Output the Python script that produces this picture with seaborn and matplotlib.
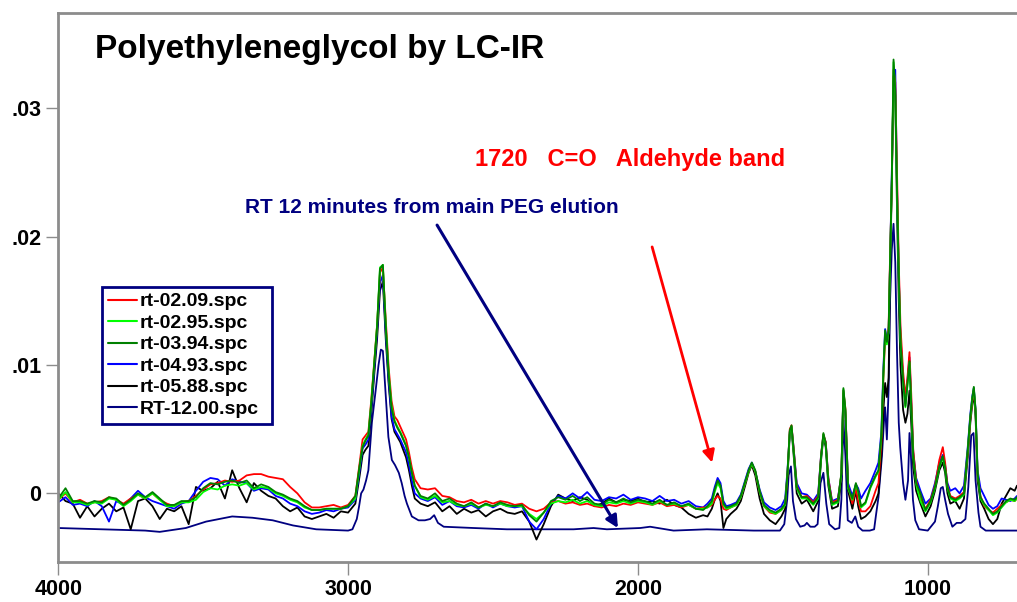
import numpy as np
import pandas as pd
import seaborn as sns
import matplotlib.pyplot as plt

sns.set_theme(style='white')
plt.rcParams['font.family'] = ['Liberation Sans', 'DejaVu Sans']
plt.rcParams['text.color'] = 'black'

# wavenumber grid (cm-1) shared by the five early fractions
wavenumber = [
    4000, 3975, 3950, 3925, 3900, 3875, 3850, 3825, 3800, 3775, 3750, 3725, 3700, 3675,
    3650, 3625, 3600, 3575, 3550, 3525, 3500, 3475, 3450, 3425, 3400, 3375, 3350, 3325,
    3300, 3275, 3250, 3225, 3200, 3175, 3150, 3125, 3100, 3075, 3050, 3025, 3000, 2975,
    2960, 2950, 2940, 2930, 2920, 2910, 2900, 2890, 2880, 2870, 2860, 2850, 2840, 2830,
    2820, 2810, 2800, 2790, 2780, 2770,
    2750, 2725, 2700, 2675, 2650, 2625, 2600, 2575, 2550, 2525, 2500, 2475, 2450, 2425,
    2400, 2375, 2350, 2325, 2300, 2275, 2250, 2225, 2200, 2175, 2150, 2125, 2100, 2075,
    2050, 2025, 2000, 1975, 1950, 1925, 1900, 1875, 1850, 1825, 1800, 1775,
    1760, 1745, 1735, 1725, 1715, 1705, 1695, 1680, 1660, 1645, 1630, 1618, 1607, 1595,
    1580, 1565, 1545, 1525, 1505, 1492, 1484, 1476, 1470, 1463, 1452, 1435, 1417, 1395,
    1378, 1368, 1360, 1352, 1343, 1330, 1310, 1298, 1291, 1284, 1275, 1260, 1248, 1240,
    1230, 1215, 1198, 1180, 1170, 1160, 1153, 1147, 1141, 1135, 1130, 1124, 1118, 1112,
    1106, 1100, 1094, 1085, 1077, 1070, 1063, 1057, 1050, 1040, 1025, 1008, 990, 975,
    960, 948, 940, 932, 922, 905, 890, 875, 862, 853, 846, 841, 835, 828,
    818, 805, 790, 775, 760, 745, 730, 715, 700, 692,
]

# absorbance in units of 1e-4
rt_0209 = [
    -5, 0, -7, -5, -8, -7, -6, -3, -5, -8, -4, -1, -4, 0, -5, -8, -10, -7, -6, -2, 3,
    7, 8, 10, 9, 10, 14, 15, 15, 13, 12, 11, 5, 0, -7, -11, -11, -10, -9, -11, -9, -2,
    24, 42, 45, 48, 73, 102, 131, 172, 176, 135, 98, 72, 60, 57, 52, 47, 42, 32, 20, 11,
    4, 3, 4, -2, -3, -6, -7, -5, -8, -6, -8, -6, -7, -9, -8, -12, -14, -12, -7, -6,
    -8, -7, -9, -8, -10, -11, -9, -10, -8, -9, -7, -8, -9, -7, -10, -9, -11, -9, -12, -11,
    -11, -9, -5, -2, -4, -12, -13, -11, -9, -3, 8, 17, 23, 17, 1, -10, -15, -16, -13, -9,
    15, 50, 53, 36, 6, -3, -2, -7, -2, 30, 46, 40, 12, -7, -5, 15, 80, 66, 6, -8,
    4, -6, -14, -14, -10, 2, 8, 40, 90, 120, 118, 130, 185, 240, 330, 320, 250, 180, 130, 95,
    75, 90, 110, 78, 34, 10, -4, -12, -5, 6, 26, 36, 24, 6, -2, -4, -2, 1, 32, 58,
    73, 80, 64, 15, -2, -10, -13, -15, -12, -9, -7, -5, -6, -4,
]
rt_0295 = [
    -5, 1, -7, -7, -9, -7, -8, -4, -5, -10, -6, -1, -4, 0, -5, -10, -10, -7, -7, -5, 1,
    4, 3, 6, 7, 6, 8, 3, 5, 4, 0, -2, -5, -7, -11, -13, -13, -12, -12, -12, -10, -4,
    21, 37, 42, 46, 71, 101, 131, 176, 178, 131, 94, 68, 57, 52, 48, 43, 37, 28, 16, 6,
    -3, -5, -2, -7, -6, -9, -10, -8, -11, -9, -10, -8, -10, -10, -10, -16, -20, -15, -8, -6,
    -7, -5, -8, -6, -9, -10, -7, -8, -6, -8, -6, -7, -9, -6, -9, -8, -10, -9, -12, -12,
    -11, -8, 1, 8, 4, -9, -12, -11, -9, -3, 8, 17, 23, 17, 1, -10, -14, -16, -13, -9,
    15, 48, 52, 33, 4, -4, -4, -9, -4, 28, 46, 38, 9, -9, -7, 15, 81, 64, 4, -5,
    7, 1, -11, -8, 4, 13, 17, 44, 92, 125, 116, 126, 180, 242, 336, 312, 234, 170, 118, 87,
    67, 84, 102, 69, 28, 7, -6, -14, -7, 4, 20, 28, 19, 4, -4, -6, -4, -1, 33, 59,
    74, 82, 64, 15, -4, -9, -13, -17, -15, -11, -7, -5, -6, -4,
]
rt_0394 = [
    -4, 4, -6, -6, -8, -6, -7, -3, -4, -9, -5, 0, -3, 1, -4, -9, -9, -6, -6, -3, 4,
    8, 7, 9, 10, 8, 10, 4, 7, 5, 1, -1, -4, -6, -10, -13, -13, -12, -12, -12, -10, -2,
    22, 36, 41, 45, 70, 100, 130, 175, 178, 130, 92, 66, 56, 51, 47, 42, 37, 28, 16, 6,
    -2, -4, 0, -6, -4, -8, -10, -7, -11, -8, -10, -7, -9, -10, -9, -17, -22, -15, -6, -3,
    -5, -2, -6, -3, -8, -9, -5, -7, -4, -7, -5, -6, -8, -5, -9, -7, -10, -8, -12, -13,
    -10, -6, 3, 10, 6, -8, -11, -10, -8, -2, 9, 18, 24, 18, 2, -9, -13, -15, -12, -8,
    16, 49, 53, 34, 5, -3, -3, -8, -3, 29, 47, 39, 10, -8, -6, 16, 82, 65, 5, -4,
    8, 2, -10, -7, 5, 14, 18, 45, 94, 127, 118, 127, 182, 244, 338, 314, 236, 171, 119, 88,
    68, 85, 103, 70, 29, 8, 0, -13, -6, 5, 21, 29, 20, 5, -3, -5, -3, 0, 34, 60,
    75, 83, 65, 16, -3, -8, -12, -16, -14, -10, -6, -4, -5, -3,
]
rt_0493 = [
    -7, -3, -9, -8, -10, -6, -10, -22, -6, -9, -4, 2, -3, -6, -8, -10, -12, -8, -6, 2, 9,
    12, 11, 6, 11, 9, 8, 2, 4, 3, -2, -4, -8, -10, -14, -16, -15, -13, -14, -12, -11, -5,
    18, 35, 38, 42, 66, 96, 126, 164, 170, 125, 88, 60, 50, 46, 42, 37, 32, 22, 10, 0,
    -4, -6, -3, -9, -6, -10, -11, -9, -12, -8, -11, -8, -10, -11, -10, -22, -28, -20, -8, -2,
    -4, 0, -4, 1, -5, -6, -3, -4, -1, -5, -3, -4, -6, -2, -6, -5, -8, -6, -10, -11,
    -8, -4, 5, 12, 8, -6, -10, -9, -7, -1, 10, 19, 24, 17, 3, -7, -11, -13, -10, -4,
    18, 48, 52, 36, 8, 0, -1, -6, 0, 30, 45, 40, 12, -6, -4, 14, 80, 63, 8, -2,
    7, 4, -4, 2, 8, 18, 24, 48, 98, 128, 120, 125, 180, 248, 320, 330, 240, 172, 122, 90,
    70, 88, 106, 72, 32, 12, 2, -8, -4, 8, 24, 30, 22, 8, 2, 4, 0, 6, 36, 62,
    76, 82, 66, 18, 4, -2, -9, -12, -10, -4, -5, -6, -4, -2,
]
rt_0588 = [
    0, -6, -8, -19, -10, -18, -12, -8, -14, -11, -28, -6, -4, -10, -20, -12, -14, -10, -24, 5, 2,
    4, 9, -4, 18, 4, -7, 8, 2, -2, -4, -10, -14, -11, -18, -20, -18, -16, -19, -14, -15, -8,
    14, 30, 34, 37, 62, 92, 120, 158, 165, 120, 85, 58, 48, 44, 40, 34, 28, 18, 6, -4,
    -8, -10, -7, -14, -10, -16, -12, -15, -13, -18, -14, -12, -15, -16, -14, -22, -36, -24, -10, -1,
    -4, -6, -3, -5, -10, -8, -4, -7, -5, -6, -4, -7, -6, -8, -5, -9, -11, -16, -19, -17,
    -18, -12, -5, 0, -6, -27, -20, -16, -12, -6, 6, 16, 22, 14, -4, -16, -21, -24, -18, -12,
    12, 46, 50, 30, 0, -8, -5, -14, -6, 26, 44, 36, 6, -12, -10, 10, 78, 60, 2, -12,
    2, -10, -20, -18, -14, -6, 0, 30, 65, 86, 75, 90, 170, 240, 325, 310, 220, 150, 100, 65,
    55, 62, 80, 55, 20, 2, -8, -18, -10, 2, 18, 24, 16, 0, -8, -6, -12, -4, 28, 55,
    70, 78, 60, 10, -6, -12, -20, -24, -20, -8, -2, 4, 2, 6,
]

# the late fraction has its own, smoother trace
wavenumber_rt12 = [
    4000, 3850, 3700, 3650, 3560, 3490, 3400, 3330, 3260, 3190, 3110, 3000, 2985, 2970,
    2962, 2955, 2947, 2938, 2930, 2918, 2905, 2895, 2887, 2880, 2872, 2861, 2849, 2838,
    2825, 2815, 2805, 2797, 2780, 2757, 2735, 2717, 2703, 2690, 2670, 2567, 2452, 2338,
    2222, 2153, 2107, 1992, 1958, 1877, 1762, 1600, 1510, 1495, 1485, 1480, 1472, 1465,
    1455, 1440, 1425, 1417, 1405, 1390, 1380, 1370, 1360, 1350, 1340, 1320, 1305, 1298,
    1291, 1284, 1276, 1262, 1250, 1240, 1225, 1200, 1185, 1178, 1170, 1158, 1150, 1147,
    1141, 1135, 1130, 1124, 1118, 1112, 1106, 1100, 1095, 1085, 1077, 1068, 1063, 1058,
    1051, 1043, 1030, 1000, 975, 965, 955, 948, 940, 930, 915, 900, 885, 870,
    860, 850, 842, 835, 825, 818, 800, 692,
]
rt_1200 = [
    -27, -28, -29, -30, -27, -22, -18, -19, -21, -25, -28, -29, -28, -20,
    -10, 0, 3, 10, 18, 55, 80, 100, 112, 111, 83, 44, 26, 22,
    16, 8, -2, -8, -18, -21, -21, -20, -17, -23, -26, -27, -28, -28,
    -28, -27, -28, -27, -26, -29, -28, -29, -29, -24, -5, 14, 21, -6,
    -20, -26, -25, -23, -26, -26, -24, 8, 16, -8, -24, -28, -27, -5,
    57, 29, -21, -23, -18, -26, -29, -29, -28, -16, -3, 29, 60, 67,
    42, 81, 150, 190, 210, 180, 110, 55, 36, 8, -5, 10, 47, 29,
    -5, -21, -28, -29, -22, -10, 4, 5, -5, -16, -26, -23, -23, -20,
    5, 45, 47, 10, -15, -26, -29, -29,
]

legend_order = ['rt-02.09.spc', 'rt-02.95.spc', 'rt-03.94.spc',
                'rt-04.93.spc', 'rt-05.88.spc', 'RT-12.00.spc']
colors = {'rt-02.09.spc': '#ff0000', 'rt-02.95.spc': '#00ff00', 'rt-03.94.spc': '#008000',
          'rt-04.93.spc': '#0000ff', 'rt-05.88.spc': '#000000', 'RT-12.00.spc': '#000080'}

series = [
    ('rt-02.09.spc', wavenumber, rt_0209),
    ('rt-02.95.spc', wavenumber, rt_0295),
    ('rt-03.94.spc', wavenumber, rt_0394),
    ('rt-04.93.spc', wavenumber, rt_0493),
    ('rt-05.88.spc', wavenumber, rt_0588),
    ('RT-12.00.spc', wavenumber_rt12, rt_1200),
]
frames = []
for name, wn, vals in series:
    assert len(wn) == len(vals), name
    frames.append(pd.DataFrame({'Wavenumber': wn,
                                'Absorbance': np.array(vals) * 1e-4,
                                'File': name}))
df = pd.concat(frames, ignore_index=True)

fig = plt.figure(figsize=(10.17, 6.02), dpi=100)
ax = fig.add_axes([0.0573, 0.0664, 0.9427, 0.9115])

draw_order = ['RT-12.00.spc', 'rt-05.88.spc', 'rt-04.93.spc',
              'rt-02.09.spc', 'rt-02.95.spc', 'rt-03.94.spc']
for name in draw_order:
    sns.lineplot(data=df[df['File'] == name], x='Wavenumber', y='Absorbance',
                 color=colors[name], lw=1.3, label=name, estimator=None, ax=ax)

ax.set_xlim(4000, 692)
ax.set_ylim(-0.00535, 0.0374)
ax.set_xlabel('')
ax.set_ylabel('')
ax.set_xticks([4000, 3000, 2000, 1000])
ax.set_yticks([0, 0.01, 0.02, 0.03], labels=['0', '.01', '.02', '.03'])
ax.tick_params(bottom=True, left=True, direction='out', length=9, width=1,
               color='#8c8c8c', labelcolor='black', labelsize=15.5, pad=3)
for lbl in ax.get_xticklabels() + ax.get_yticklabels():
    lbl.set_fontweight('bold')
ax.spines['right'].set_visible(False)
for side in ['left', 'top', 'bottom']:
    ax.spines[side].set_color('#8c8c8c')
    ax.spines[side].set_linewidth(2)

handles, labels = ax.get_legend_handles_labels()
lookup = dict(zip(labels, handles))
leg = ax.legend([lookup[n] for n in legend_order], legend_order,
                loc='upper left', bbox_to_anchor=(0.0456, 0.2588, 0.1773, 0.2424),
                mode='expand', borderaxespad=0, frameon=True, fancybox=False,
                framealpha=1, edgecolor='#000080', prop={'weight': 'bold', 'size': 14},
                handlelength=1.5, handletextpad=0.15, borderpad=0.3,
                labelspacing=0.2, labelcolor='black')
leg.get_frame().set_linewidth(2)
for line in leg.get_lines():
    line.set_linewidth(1.5)

ax.text(0.0383, 0.9185, 'Polyethyleneglycol by LC-IR', transform=ax.transAxes,
        color='black', fontsize=24, fontweight='bold', va='baseline', ha='left')
ax.text(0.4347, 0.7217, '1720   C=O   Aldehyde band', transform=ax.transAxes,
        color='#ff0000', fontsize=17, fontweight='bold', va='baseline', ha='left')
ax.text(0.1947, 0.636, 'RT 12 minutes from main PEG elution', transform=ax.transAxes,
        color='#000080', fontsize=15, fontweight='bold', va='baseline', ha='left')

ax.annotate('', xy=(2069, -0.0027), xytext=(2693, 0.0209),
            arrowprops=dict(arrowstyle='-|>', color='#000080', lw=2.2,
                            mutation_scale=18, shrinkA=0, shrinkB=0))
ax.annotate('', xy=(1744, 0.0024), xytext=(1951, 0.0192),
            arrowprops=dict(arrowstyle='-|>', color='#ff0000', lw=2,
                            mutation_scale=18, shrinkA=0, shrinkB=0))

fig.savefig('out.png', dpi=100)
